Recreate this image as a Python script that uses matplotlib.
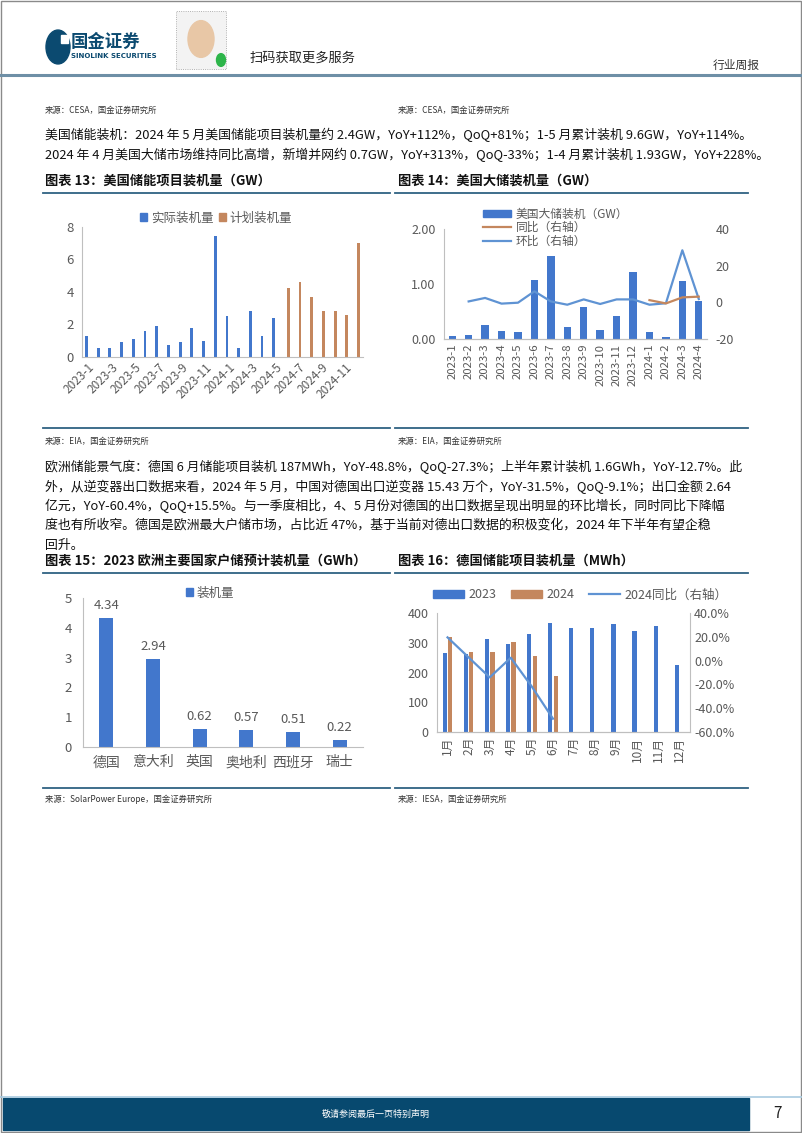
import matplotlib
matplotlib.use("Agg")
import matplotlib.pyplot as plt
from matplotlib.patches import Rectangle, Circle, Patch
from matplotlib.lines import Line2D

plt.rcParams['font.family'] = ['Noto Sans CJK SC', 'DejaVu Sans']
plt.rcParams['axes.unicode_minus'] = False

W, H = 802, 1133
BLUE = '#4277CC'
ORANGE = '#C4875E'
LBLUE = '#5F93D3'
GREY_TXT = '#595959'
AX_GREY = '#BFBFBF'
NAVY = '#0B4A70'

# ---- chart 13: US storage installs (GW)
c13_months = ['2023-1', '2023-2', '2023-3', '2023-4', '2023-5', '2023-6', '2023-7', '2023-8',
              '2023-9', '2023-10', '2023-11', '2023-12', '2024-1', '2024-2', '2024-3', '2024-4',
              '2024-5', '2024-6', '2024-7', '2024-8', '2024-9', '2024-10', '2024-11', '2024-12']
c13_actual = [1.27, 0.57, 0.57, 0.94, 1.13, 1.62, 1.89, 0.76, 0.94, 1.81, 1.0, 7.45,
              2.54, 0.57, 2.81, 1.31, 2.38]
c13_planned = [4.23, 4.6, 3.67, 2.85, 2.81, 2.56, 7.02]

# ---- chart 14: US utility-scale storage (GW)
c14_months = ['2023-1', '2023-2', '2023-3', '2023-4', '2023-5', '2023-6', '2023-7', '2023-8',
              '2023-9', '2023-10', '2023-11', '2023-12', '2024-1', '2024-2', '2024-3', '2024-4']
c14_gw = [0.06, 0.08, 0.26, 0.145, 0.13, 1.07, 1.51, 0.21, 0.59, 0.17, 0.42, 1.21,
          0.13, 0.03, 1.05, 0.70]
c14_qoq = [0.5, 2.4, -0.7, -0.2, 6.0, 0.5, -1.3, 1.6, -0.9, 1.6, 1.6, -1.3, -0.5, 28.4, 1.8]
c14_yoy = [1.2, -0.6, 2.7, 3.1]

# ---- chart 15: 2023 Europe residential storage (GWh)
c15_countries = ['德国', '意大利', '英国', '奥地利', '西班牙', '瑞士']
c15_values = [4.34, 2.94, 0.62, 0.57, 0.51, 0.22]

# ---- chart 16: Germany storage installs (MWh)
c16_months = ['1月', '2月', '3月', '4月', '5月', '6月', '7月', '8月', '9月', '10月', '11月', '12月']
c16_2023 = [267, 261, 312, 295, 329, 366, 349, 349, 363, 340, 356, 224]
c16_2024 = [319, 268, 268, 302, 257, 187]
c16_yoy = [19.5, 2.7, -14.1, 2.4, -21.9, -48.8]

para1 = ["美国储能装机：2024 年 5 月美国储能项目装机量约 2.4GW，YoY+112%，QoQ+81%；1-5 月累计装机 9.6GW，YoY+114%。",
         "2024 年 4 月美国大储市场维持同比高增，新增并网约 0.7GW，YoY+313%，QoQ-33%；1-4 月累计装机 1.93GW，YoY+228%。"]
para2 = ["欧洲储能景气度：德国 6 月储能项目装机 187MWh，YoY-48.8%，QoQ-27.3%；上半年累计装机 1.6GWh，YoY-12.7%。此",
         "外，从逆变器出口数据来看，2024 年 5 月，中国对德国出口逆变器 15.43 万个，YoY-31.5%，QoQ-9.1%；出口金额 2.64",
         "亿元，YoY-60.4%，QoQ+15.5%。与一季度相比，4、5 月份对德国的出口数据呈现出明显的环比增长，同时同比下降幅",
         "度也有所收窄。德国是欧洲最大户储市场，占比近 47%，基于当前对德出口数据的积极变化，2024 年下半年有望企稳",
         "回升。"]

fig = plt.figure(figsize=(W / 100, H / 100), dpi=100)


def fx(x):
    return x / W


def fy(y):
    return 1 - y / H


def rect(x0, y0, x1, y1):
    return [fx(x0), fy(y1), (x1 - x0) / W, (y1 - y0) / H]


def txt(x, y, s, **kw):
    kw.setdefault('va', 'center')
    kw.setdefault('ha', 'left')
    fig.text(fx(x), fy(y), s, **kw)


def hline(x0, x1, y, color, lw):
    fig.add_artist(Line2D([fx(x0), fx(x1)], [fy(y), fy(y)], color=color, lw=lw))


def style_axes(ax, left=True, right=False):
    for side in ['top', 'right', 'left', 'bottom']:
        ax.spines[side].set_visible(False)
    ax.spines['bottom'].set_visible(True)
    ax.spines['bottom'].set_color(AX_GREY)
    if left:
        ax.spines['left'].set_visible(True)
        ax.spines['left'].set_color(AX_GREY)
    if right:
        ax.spines['right'].set_visible(True)
        ax.spines['right'].set_color(AX_GREY)
    ax.tick_params(length=0, colors=GREY_TXT)
    ax.set_facecolor('none')


# ---------------- page frame / header ----------------
fig.add_artist(Rectangle((fx(1), fy(1132)), (W - 2) / W, 1131 / H, fill=False, ec='#8A8A8A', lw=1))

fig.add_artist(Circle((fx(58), fy(47)), 12 / W, color=NAVY, transform=fig.transFigure))
fig.add_artist(Rectangle((fx(61), fy(43)), 7 / W, 8 / H, color='white'))
txt(71, 42, '国金证券', fontsize=12.5, color=NAVY, fontweight='bold')
txt(71, 56, 'SINOLINK SECURITIES', fontsize=5, color=NAVY, fontweight='bold', family=['DejaVu Sans'])

fig.add_artist(Rectangle((fx(176), fy(69)), 50 / W, 58 / H, fc='#F3F3F3', ec='#9A9A9A', lw=0.6, ls=':'))
fig.add_artist(Circle((fx(201), fy(39)), 13 / W, color='#E8C7A6', transform=fig.transFigure))
fig.add_artist(Circle((fx(221), fy(60)), 4.5 / W, color='#2DB54A', transform=fig.transFigure))
txt(250, 58, '扫码获取更多服务', fontsize=9.5, color='#222222')
txt(713, 65, '行业周报', fontsize=8.5, color='#333333')
hline(0, W, 75, '#6E8FA6', 2.2)

# ---------------- text blocks ----------------
SRC = dict(fontsize=6, color='#333333')
txt(45, 110, '来源：CESA，国金证券研究所', **SRC)
txt(398, 110, '来源：CESA，国金证券研究所', **SRC)
for i, line in enumerate(para1):
    txt(45, 135 + 19.5 * i, line, fontsize=9.3, color='#111111')

TITLE = dict(fontsize=9.5, color='#111111', fontweight='bold')
txt(45, 181, '图表 13：美国储能项目装机量（GW）', **TITLE)
txt(398, 181, '图表 14：美国大储装机量（GW）', **TITLE)
hline(43, 390, 193, '#2F6282', 1.3)
hline(395, 748, 193, '#2F6282', 1.3)
hline(43, 390, 428, '#2F6282', 1.3)
hline(395, 748, 428, '#2F6282', 1.3)

txt(45, 441, '来源：EIA，国金证券研究所', **SRC)
txt(398, 441, '来源：EIA，国金证券研究所', **SRC)
for i, line in enumerate(para2):
    txt(45, 467 + 19.5 * i, line, fontsize=9.3, color='#111111')

txt(45, 561, '图表 15：2023 欧洲主要国家户储预计装机量（GWh）', **TITLE)
txt(398, 561, '图表 16：德国储能项目装机量（MWh）', **TITLE)
hline(43, 390, 573, '#2F6282', 1.3)
hline(395, 748, 573, '#2F6282', 1.3)
hline(43, 390, 788, '#2F6282', 1.3)
hline(395, 748, 788, '#2F6282', 1.3)
txt(45, 799, '来源：SolarPower Europe，国金证券研究所', **SRC)
txt(398, 799, '来源：IESA，国金证券研究所', **SRC)

# ---------------- chart 13 ----------------
ax = fig.add_axes(rect(82, 227, 363, 357))
style_axes(ax)
n13 = len(c13_months)
xa = [i - 0.12 for i in range(len(c13_actual))]
xp = [i + 0.12 for i in range(len(c13_actual), n13)]
ax.bar(xa, c13_actual, width=0.24, color=BLUE)
ax.bar(xp, c13_planned, width=0.24, color=ORANGE)
ax.set_xlim(-0.5, n13 - 0.5)
ax.set_ylim(0, 8)
ax.set_yticks([0, 2, 4, 6, 8])
ax.tick_params(axis='y', labelsize=9.5, pad=6)
ax.set_xticks(range(0, n13, 2))
ax.set_xticklabels(c13_months[::2], rotation=45, ha='right', rotation_mode='anchor', fontsize=8.5)
ax.tick_params(axis='x', pad=3)
h13 = [Patch(color=BLUE, label='实际装机量'), Patch(color=ORANGE, label='计划装机量')]
fig.legend(handles=h13, loc='center', bbox_to_anchor=(fx(216), fy(218)), ncol=2, frameon=False,
           fontsize=9, handlelength=0.6, handleheight=0.6, handletextpad=0.3, columnspacing=0.4,
           labelcolor=GREY_TXT)

# ---------------- chart 14 ----------------
ax = fig.add_axes(rect(444, 229, 707, 339))
style_axes(ax)
n14 = len(c14_months)
ax.bar(range(n14), c14_gw, width=0.45, color=BLUE)
ax.set_xlim(-0.5, n14 - 0.5)
ax.set_ylim(0, 2)
ax.set_yticks([0, 1, 2])
ax.set_yticklabels(['%.2f' % v for v in [0, 1, 2]], fontsize=9)
ax.tick_params(axis='y', pad=6)
ax.set_xticks(range(n14))
ax.set_xticklabels(c14_months, rotation=90, fontsize=8.2)
axr = ax.twinx()
style_axes(axr, left=False)
axr.plot(range(1, n14), c14_qoq, color=LBLUE, lw=1.6)
axr.plot(range(n14 - len(c14_yoy), n14), c14_yoy, color=ORANGE, lw=1.6)
axr.set_ylim(-20, 40)
axr.set_yticks([-20, 0, 20, 40])
axr.tick_params(axis='y', labelsize=9, pad=6, colors=GREY_TXT)
h14 = [Patch(color=BLUE, label='美国大储装机（GW）'),
       Line2D([], [], color=ORANGE, lw=1.6, label='同比（右轴）'),
       Line2D([], [], color=LBLUE, lw=1.6, label='环比（右轴）')]
fig.legend(handles=h14, loc='upper left', bbox_to_anchor=(fx(472), fy(197)), frameon=False,
           fontsize=8.5, handlelength=2.4, handleheight=0.6, handletextpad=0.4, labelspacing=0.05,
           labelcolor=GREY_TXT)

# ---------------- chart 15 ----------------
ax = fig.add_axes(rect(83, 598, 363, 747))
style_axes(ax)
bars = ax.bar(range(len(c15_countries)), c15_values, width=0.3, color=BLUE)
for b, v in zip(bars, c15_values):
    ax.text(b.get_x() + b.get_width() / 2, v + 0.2, '%.2f' % v, ha='center', va='bottom',
            fontsize=9.5, color=GREY_TXT)
ax.set_xlim(-0.5, len(c15_countries) - 0.5)
ax.set_ylim(0, 5)
ax.set_yticks(range(6))
ax.tick_params(axis='y', labelsize=9.5, pad=8)
ax.set_xticks(range(len(c15_countries)))
ax.set_xticklabels(c15_countries, fontsize=10)
ax.tick_params(axis='x', pad=6)
fig.legend(handles=[Patch(color=BLUE, label='装机量')], loc='center', bbox_to_anchor=(fx(210), fy(593)),
           frameon=False, fontsize=9, handlelength=0.6, handleheight=0.6, handletextpad=0.3,
           labelcolor=GREY_TXT)

# ---------------- chart 16 ----------------
ax = fig.add_axes(rect(437, 613, 690, 732))
style_axes(ax, left=True, right=True)
n16 = len(c16_months)
ax.bar([i - 0.13 for i in range(n16)], c16_2023, width=0.2, color=BLUE)
ax.bar([i + 0.13 for i in range(len(c16_2024))], c16_2024, width=0.2, color=ORANGE)
ax.set_xlim(-0.5, n16 - 0.5)
ax.set_ylim(0, 400)
ax.set_yticks([0, 100, 200, 300, 400])
ax.tick_params(axis='y', labelsize=9, pad=6)
ax.set_xticks(range(n16))
ax.set_xticklabels(c16_months, rotation=90, fontsize=8.5)
axr = ax.twinx()
style_axes(axr, left=False)
axr.plot(range(len(c16_yoy)), c16_yoy, color=LBLUE, lw=1.6)
axr.set_ylim(-60, 40)
axr.set_yticks([-60, -40, -20, 0, 20, 40])
axr.set_yticklabels(['%.1f%%' % v for v in [-60, -40, -20, 0, 20, 40]])
axr.tick_params(axis='y', labelsize=9, pad=3, colors=GREY_TXT)
h16 = [Patch(color=BLUE, label='2023'), Patch(color=ORANGE, label='2024'),
       Line2D([], [], color=LBLUE, lw=1.6, label='2024同比（右轴）')]
fig.legend(handles=h16, loc='center', bbox_to_anchor=(fx(580), fy(595)), ncol=3, frameon=False,
           fontsize=9, handlelength=2.5, handleheight=0.55, handletextpad=0.3, columnspacing=1.2,
           labelcolor=GREY_TXT)

# ---------------- footer ----------------
hline(0, W, 1097, '#A9CBE0', 1.2)
fig.add_artist(Rectangle((fx(3), fy(1130)), 746 / W, 32 / H, color='#07496F'))
txt(376, 1114, '敬请参阅最后一页特别声明', fontsize=6.5, color='white', ha='center')
txt(777, 1114, '7', fontsize=11, color='#222222', ha='center')

fig.savefig('out.png', dpi=100)
